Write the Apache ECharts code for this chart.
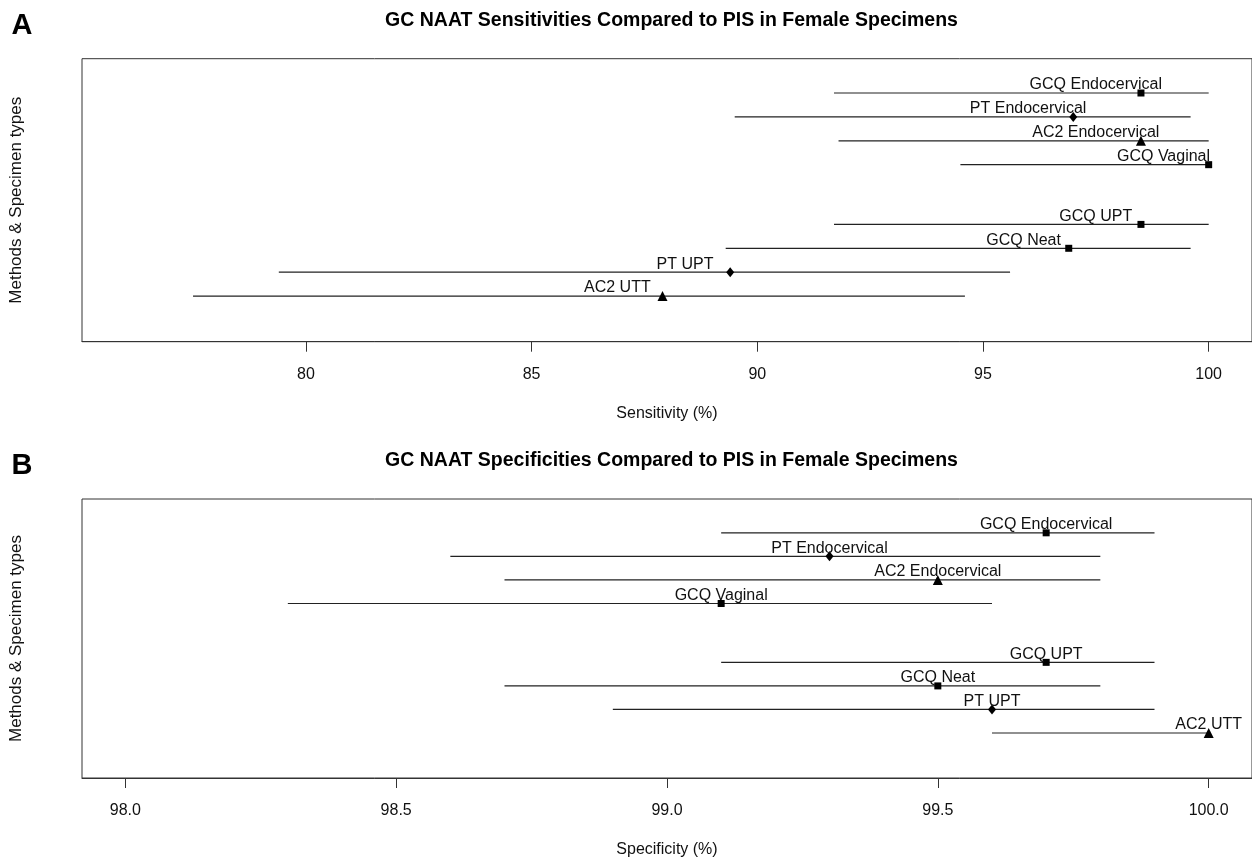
<!DOCTYPE html>
<html>
<head>
<meta charset="utf-8">
<script src="https://cdn.jsdelivr.net/npm/echarts@6/dist/echarts.min.js"></script>
<style>
html,body{margin:0;padding:0;background:#fff;}
#chart{width:1252px;height:859px;}
</style>
</head>
<body>
<div id="chart"></div>
<script>
// ---- data ----
const rowNames = ['GCQ Endocervical','PT Endocervical','AC2 Endocervical','GCQ Vaginal','GCQ UPT','GCQ Neat','PT UPT','AC2 UTT'];
const rowPos = [1, 2, 3, 4, 6.5, 7.5, 8.5, 9.5];
const rowShapes = ['square','diamond','triangle','square','square','square','diamond','triangle'];

const sensPoint = [98.5, 97.0, 98.5, 100.0, 98.5, 96.9, 89.4, 87.9];
const sensLower = [91.7, 89.5, 91.8, 94.5, 91.7, 89.3, 79.4, 77.5];
const sensUpper = [100.0, 99.6, 100.0, 100.0, 100.0, 99.6, 95.6, 94.6];

const specPoint = [99.7, 99.3, 99.5, 99.1, 99.7, 99.5, 99.6, 100.0];
const specLower = [99.1, 98.6, 98.7, 98.3, 99.1, 98.7, 98.9, 99.6];
const specUpper = [99.9, 99.8, 99.8, 99.6, 99.9, 99.8, 99.9, 100.0];

const sensTicks = [80, 85, 90, 95, 100];
const specTicks = [98.0, 98.5, 99.0, 99.5, 100.0];

const titleA = 'GC NAAT Sensitivities Compared to PIS in Female Specimens';
const titleB = 'GC NAAT Specificities Compared to PIS in Female Specimens';
const xNameA = 'Sensitivity (%)';
const xNameB = 'Specificity (%)';
const yName = 'Methods & Specimen types';
// label placement shift (data units) observed in each panel
const labelShiftA = 1;
const labelShiftB = 0;

// ---- chart ----
const FONT = "'Liberation Sans', Arial, sans-serif";
const chart = echarts.init(document.getElementById('chart'));

const gridTops = [58.7, 499];
const gridH = 283;
const symbolSizes = {square: 7, diamond: [8, 10], triangle: 10};

function ciSeries(idx, lower, upper) {
  return {
    type: 'custom', xAxisIndex: idx, yAxisIndex: idx, silent: true,
    data: rowPos.map((p, i) => [lower[i], upper[i], p]),
    renderItem: function (params, api) {
      const a = api.coord([api.value(0), api.value(2)]);
      const b = api.coord([api.value(1), api.value(2)]);
      return {type: 'line', shape: {x1: a[0], y1: a[1], x2: b[0], y2: b[1]},
        style: {stroke: '#222', lineWidth: 1.2}};
    },
    z: 2
  };
}
function pointSeries(idx, pts) {
  return {
    type: 'scatter', xAxisIndex: idx, yAxisIndex: idx, silent: true,
    data: rowPos.map((p, i) => ({value: [pts[i], p], symbol: rowShapes[i], symbolSize: symbolSizes[rowShapes[i]]})),
    itemStyle: {color: '#000', opacity: 1},
    z: 3
  };
}
function labelSeries(idx, pts, shift) {
  return {
    type: 'scatter', xAxisIndex: idx, yAxisIndex: idx, silent: true,
    data: rowPos.map((p, i) => ({value: [pts[i] - shift, p], name: rowNames[i]})),
    symbolSize: 0,
    itemStyle: {color: '#000', opacity: 1},
    label: {show: true, position: 'top', distance: 0, formatter: '{b}',
      fontFamily: FONT, fontSize: 16, color: '#111', opacity: 1},
    z: 4
  };
}
function xAxis(idx, min, max, ticks, name, dec) {
  return {
    type: 'value', gridIndex: idx, min: min, max: max,
    name: name, nameLocation: 'middle', nameGap: 64,
    nameTextStyle: {fontFamily: FONT, fontSize: 16, color: '#111'},
    axisLine: {show: true, onZero: false, lineStyle: {color: '#333', width: 1}},
    axisTick: {show: true, length: 10, customValues: ticks, lineStyle: {color: '#333'}},
    axisLabel: {show: true, customValues: ticks, margin: 25, fontFamily: FONT, fontSize: 16, color: '#111',
      formatter: v => dec ? Number(v).toFixed(dec) : String(v)},
    splitLine: {show: false}
  };
}
function yAxis(idx) {
  return {
    type: 'value', gridIndex: idx, inverse: true, min: -0.436, max: 11.41,
    name: yName, nameLocation: 'middle', nameGap: 57,
    nameTextStyle: {fontFamily: FONT, fontSize: 17, color: '#111'},
    axisLine: {show: false, onZero: false}, axisTick: {show: false}, axisLabel: {show: false}, splitLine: {show: false}
  };
}

const option = {
  backgroundColor: '#fff',
  animation: false,
  grid: gridTops.map(t => ({left: 82, right: -9, top: t, height: gridH, show: true,
    borderColor: '#333', borderWidth: 1, backgroundColor: 'transparent', containLabel: false})),
  xAxis: [
    xAxis(0, 75.04, 100.96, sensTicks, xNameA, 0),
    xAxis(1, 97.92, 100.08, specTicks, xNameB, 1)
  ],
  yAxis: [yAxis(0), yAxis(1)],
  graphic: [
    {type: 'text', x: 22, y: 26, style: {text: 'A', font: 'bold 29px ' + FONT, fill: '#000', textAlign: 'center', textVerticalAlign: 'middle'}},
    {type: 'text', x: 22, y: 466, style: {text: 'B', font: 'bold 29px ' + FONT, fill: '#000', textAlign: 'center', textVerticalAlign: 'middle'}},
    {type: 'text', x: 671.5, y: 21, style: {text: titleA, font: 'bold 19.5px ' + FONT, fill: '#000', textAlign: 'center', textVerticalAlign: 'middle'}},
    {type: 'text', x: 671.5, y: 461, style: {text: titleB, font: 'bold 19.5px ' + FONT, fill: '#000', textAlign: 'center', textVerticalAlign: 'middle'}}
  ],
  series: [
    ciSeries(0, sensLower, sensUpper), pointSeries(0, sensPoint), labelSeries(0, sensPoint, labelShiftA),
    ciSeries(1, specLower, specUpper), pointSeries(1, specPoint), labelSeries(1, specPoint, labelShiftB)
  ]
};
chart.setOption(option);
</script>
</body>
</html>
